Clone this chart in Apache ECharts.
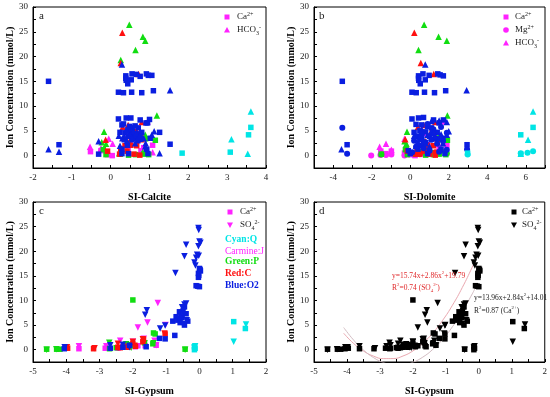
<!DOCTYPE html>
<html><head><meta charset="utf-8">
<script src="https://cdn.jsdelivr.net/npm/echarts@6/dist/echarts.min.js"></script>
<style>html,body{margin:0;padding:0;background:#fff}#c{width:550px;height:397px}</style>
</head><body><div id="c"></div>
<script>
// ---------- Panel a: SI-Calcite ----------
const calCa_Q = [[1.84,0.5],[3.08,0.7],[3.55,4.2],[3.61,5.7]];
const calCa_J = [[-0.52,0.8],[-0.25,1.0],[-0.08,0.2],[0.04,0.0],[0.45,1.0],[0.5,2.2],[0.78,1.0],[0.85,1.6],[1.08,2.1]];
const calCa_P = [[-0.19,1.2],[-0.12,0.2],[0.25,0.3],[0.46,0.1],[0.64,0.2],[0.85,0.3],[0.9,3.4],[0.98,0.2],[1.15,3.1]];
const calCa_C = [[-0.08,0.9],[0.23,0.3],[0.26,1.4],[0.37,2.0],[0.42,0.9],[0.52,2.1],[0.6,0.3],[0.63,4.9],[0.67,2.0],[0.75,0.1],[0.8,3.2]];
const calCa_O2 = [[-1.6,15.0],[-1.33,2.2],[-0.31,0.3],[0.2,12.8],[0.33,12.7],[0.54,12.8],[0.8,12.7],[1.1,13.1],[0.39,16.1],[0.39,15.6],[0.4,15.2],[0.44,14.5],[0.53,15.3],[0.55,16.5],[0.66,16.4],[0.76,16.0],[0.92,16.5],[0.97,16.2],[1.06,16.2],[0.2,7.4],[0.4,7.6],[0.52,7.6],[0.76,7.2],[1.0,7.3],[0.91,6.6],[0.95,6.6],[0.71,5.6],[0.29,6.2],[0.33,6.4],[0.49,5.9],[0.55,5.6],[0.63,6.0],[1.26,4.7],[1.53,2.3],[0.24,4.7],[0.37,4.6],[0.55,4.9],[0.67,4.4],[0.8,4.7],[0.46,3.9],[0.59,3.9],[0.35,3.2],[0.55,3.2],[0.76,3.3],[1.02,3.5],[0.43,2.1],[0.29,1.3],[0.93,1.3],[0.96,0.4],[0.29,0.4],[0.46,0.4],[0.62,3.6],[0.5,4.4],[0.45,5.2],[0.7,3.0]];
const calHCO3_Q = [[3.11,3.3],[3.53,0.4],[3.61,8.9]];
const calHCO3_J = [[-0.53,1.8],[-0.25,1.5],[-0.05,3.4],[0.05,2.4],[0.45,4.5],[0.85,1.1],[0.95,6.9],[1.08,0.7]];
const calHCO3_P = [[-0.23,2.7],[-0.17,4.8],[-0.12,2.4],[0.22,0.5],[0.26,19.3],[0.48,26.4],[0.64,21.3],[0.83,24.0],[0.83,0.7],[0.89,23.2],[0.89,4.2],[1.19,8.1]];
const calHCO3_C = [[-0.13,3.2],[0.26,18.7],[0.3,24.8],[0.31,5.8],[0.45,6.2],[0.48,2.9],[0.67,5.0],[0.72,16.5],[0.8,4.0],[0.8,6.8]];
const calHCO3_O2 = [[-1.6,1.3],[-1.33,0.8],[-0.31,2.9],[0.21,4.0],[0.24,2.0],[0.29,18.4],[1.53,13.2],[0.59,4.9],[0.5,4.2],[0.72,3.9],[0.85,3.5],[1.06,4.2],[1.12,4.9],[1.26,0.5],[0.89,1.9],[0.63,2.5],[0.35,3.9],[0.42,3.0],[0.55,3.6],[0.66,4.6],[0.4,5.2],[0.77,4.3],[0.9,2.5],[0.3,3.5]];

// ---------- Panel b: SI-Dolomite ----------
const dolCa_Q = [[2.98,0.5],[5.74,4.2],[6.38,5.7],[5.74,0.3]];
const dolCa_J = [[-1.53,0.9],[-0.98,0.9],[-1.26,0.4],[0.0,0.2],[0.25,0.0],[1.9,2.1],[1.5,1.7],[0.9,2.2],[-0.3,0.5],[0.8,1.0]];
const dolCa_P = [[-1.5,0.3],[-0.25,1.2],[-0.15,0.2],[1.2,0.2],[1.85,0.2],[1.93,3.1],[1.6,3.4],[0.8,0.1],[1.5,0.3],[0.3,0.3]];
const dolCa_C = [[0.35,1.4],[0.3,0.3],[0.7,0.9],[0.9,2.1],[1.2,2.0],[1.15,4.9],[1.4,3.2],[1.3,0.1],[-0.15,0.9],[0.6,2.0],[1.0,0.3]];
const dolCa_O2 = [[-3.53,15.0],[-3.28,2.2],[0.09,12.8],[0.31,12.7],[0.74,12.8],[1.26,12.7],[1.84,13.1],[0.43,16.1],[0.43,15.6],[0.44,15.2],[0.52,14.5],[0.66,16.5],[0.78,15.3],[0.98,16.2],[1.43,16.5],[1.55,16.3],[1.72,16.1],[0.09,7.4],[0.43,7.6],[0.69,7.7],[1.21,7.2],[1.72,7.2],[1.5,6.6],[0.3,6.3],[0.6,6.2],[0.9,5.9],[1.1,5.6],[0.5,5.0],[0.2,4.7],[0.8,4.8],[1.4,4.7],[0.35,3.9],[1.0,3.9],[0.6,3.3],[1.3,3.4],[1.7,3.5],[0.5,2.1],[0.0,0.4],[0.4,1.3],[1.6,1.3],[1.8,0.4],[0.9,0.4],[2.95,2.2],[-0.1,1.0],[0.7,2.5]];
const dolMg_Q = [[2.98,0.2],[6.09,0.6],[6.38,0.9],[5.74,0.5]];
const dolMg_J = [[-2.03,0.0],[-1.55,0.1],[-1.26,0.1],[-0.98,0.2],[-0.3,0.0],[0.2,0.1],[0.6,0.3],[1.4,0.4]];
const dolMg_P = [[-1.5,0.2],[-0.2,1.3],[0.5,0.8],[1.1,0.6],[1.6,1.0],[1.9,0.5]];
const dolMg_C = [[0.1,0.5],[0.5,0.3],[0.9,1.0],[1.3,0.7],[0.7,2.2]];
const dolMg_O2 = [[-3.53,5.6],[-3.28,0.4],[2.95,1.3],[0.2,3.0],[0.5,3.5],[0.8,2.7],[1.1,3.2],[1.4,2.4],[1.7,2.9],[1.9,4.6],[0.3,1.8],[0.7,1.5],[1.0,1.0],[1.5,0.8],[0.1,0.7],[1.9,1.2],[0.6,4.2],[1.2,5.3],[1.6,5.8],[0.9,6.4]];
const dolHCO3_Q = [[6.12,3.2],[6.38,8.9],[5.74,0.4]];
const dolHCO3_J = [[-1.59,1.8],[-1.26,2.4],[-0.98,1.2],[-0.3,3.4],[-0.2,2.3],[1.9,0.7],[1.5,1.1],[0.8,4.5],[1.7,6.9]];
const dolHCO3_P = [[0.72,26.4],[1.47,24.0],[1.9,23.2],[0.43,21.3],[-0.17,4.8],[1.93,8.1],[-0.2,2.4],[-0.3,2.9],[1.5,4.2],[1.5,0.7],[0.3,0.5]];
const dolHCO3_C = [[0.21,24.8],[0.55,18.7],[1.22,16.5],[-0.26,3.3],[0.4,5.8],[1.1,5.0],[1.3,4.0],[0.8,2.9],[0.7,6.2],[1.3,6.8]];
const dolHCO3_O2 = [[-3.57,1.3],[2.93,13.2],[0.78,18.4],[0.2,4.0],[0.3,2.0],[1.1,4.9],[0.9,4.2],[1.3,3.9],[1.5,3.5],[1.9,4.2],[2.0,4.9],[1.9,6.8],[1.0,1.9],[0.8,2.5],[0.5,3.9],[0.7,3.0],[1.1,3.6],[1.2,4.6],[0.6,5.2],[1.6,4.3],[1.7,2.5],[0.6,3.5],[0.4,2.8],[1.5,7.1],[1.1,7.0]];

// ---------- Panels c & d: SI-Gypsum ----------
const gypCa_Q = [[1.03,5.7],[1.38,4.3],[-0.15,0.6],[-0.13,0.3],[-0.15,0.0]];
const gypCa_J = [[-3.62,0.2],[-2.83,0.3],[-2.45,0.3],[-2.3,0.6],[-1.93,0.6],[-1.85,0.8],[-1.63,0.8],[-1.3,0.9]];
const gypCa_P = [[-4.59,0.1],[-4.29,0.1],[-4.19,0.1],[-2.7,0.2],[-2.5,0.4],[-2.15,1.0],[-2.0,10.1],[-1.65,1.4],[-1.4,1.2],[-1.38,3.4],[-1.33,3.2],[-0.43,0.1]];
const gypCa_C = [[-3.96,0.3],[-3.18,0.2],[-2.45,0.5],[-2.38,0.4],[-2.15,0.5],[-2.0,1.3],[-1.92,0.7],[-1.7,1.6],[-1.68,2.1],[-1.03,3.2]];
const gypCa_O2 = [[-4.06,0.2],[-2.68,0.3],[-2.3,0.5],[-2.1,0.9],[-1.6,0.6],[-1.2,2.3],[-1.03,2.2],[-0.74,2.9],[-0.6,7.7],[-0.55,7.0],[-0.7,6.7],[-0.65,6.0],[-0.8,5.8],[-0.52,6.5],[-0.4,7.3],[-0.35,5.8],[-0.45,5.0],[-0.58,5.5],[-0.5,7.5],[-0.45,8.7],[0.0,16.5],[0.03,16.0],[-0.02,15.1],[-0.03,14.7],[-0.1,13.0],[-0.05,12.9],[0.0,12.8],[0.02,16.3],[-0.03,15.5]];
const gypSO4_Q = [[1.03,1.6],[1.4,5.1],[-0.15,0.4],[-0.13,0.7]];
const gypSO4_J = [[-3.62,0.7],[-2.8,0.7],[-2.38,1.8],[-2.0,1.6],[-1.85,4.5],[-1.67,2.2],[-1.56,5.5],[-1.35,1.8],[-1.3,0.9],[-1.25,9.5],[-1.02,5.0]];
const gypSO4_P = [[-4.59,0.0],[-4.3,0.1],[-2.71,1.4],[-2.2,1.1],[-2.05,0.4],[-1.65,1.3],[-1.38,1.3],[-0.43,0.0]];
const gypSO4_C = [[-3.98,0.5],[-3.15,0.3],[-2.45,1.2],[-2.25,0.6],[-2.0,1.6],[-1.95,0.8],[-1.7,2.1],[-1.05,3.3]];
const gypSO4_O2 = [[-4.05,0.5],[-2.68,0.9],[-2.3,1.0],[-2.1,0.5],[-1.63,7.1],[-1.58,8.0],[-1.18,4.3],[-1.03,4.9],[-0.72,15.6],[-0.45,19.0],[-0.4,21.3],[-0.45,9.2],[-0.4,9.4],[-0.52,8.6],[-0.48,7.8],[-0.03,24.7],[-0.02,24.3],[0.0,22.0],[0.03,21.7],[-0.03,21.0],[-0.07,19.3],[-0.02,19.1],[-0.1,18.7],[-0.15,17.7],[-0.12,17.1],[-0.6,6.2],[-0.5,5.2],[-0.38,6.0]];

// fitted curves in panel d
const fitSO4 = [[-4.1,3.34],[-3.8,1.28],[-3.5,-0.26],[-3.2,-1.29],[-2.9,-1.81],[-2.6,-1.80],[-2.3,-1.28],[-2.0,-0.25],[-1.7,1.30],[-1.4,3.36],[-1.1,5.94],[-0.8,9.03],[-0.5,12.64],[-0.2,16.75],[-0.1,18.25]];
const fitCa = [[-4.1,4.51],[-3.8,1.97],[-3.5,-0.06],[-3.2,-1.58],[-2.9,-2.59],[-2.6,-3.09],[-2.3,-3.08],[-2.0,-2.55],[-1.7,-1.51],[-1.4,0.04],[-1.1,2.09],[-0.8,4.66],[-0.5,7.74],[-0.2,11.33],[-0.1,12.64]];

const yLabels = [0,5,10,15,20,25,30];
const yTicks = [-2.5,0,2.5,5,7.5,10,12.5,15,17.5,20,22.5,25,27.5,30];

const COL = {Q:'#00e5e5', J:'#ff22ff', P:'#11dd11', C:'#ff1010', O2:'#0a1ee0'};
const SERIF = '"Liberation Serif","Times New Roman",serif';

const chart = echarts.init(document.getElementById('c'), null, {renderer:'canvas'});

const grids = [
  {left:33, right:284, top:7, bottom:229},
  {left:314, right:5, top:7, bottom:229},
  {left:33, right:284, top:202, bottom:33},
  {left:314, right:5, top:202, bottom:33}
].map(g => Object.assign({show:true, borderColor:'#000', borderWidth:1, backgroundColor:'transparent'}, g));

function xAx(i, name, min, max, interval, labelVals, tickVals){
  const ax = {gridIndex:i, type:'value', min, max, interval, name, nameLocation:'middle', nameGap:24,
    nameTextStyle:{fontFamily:SERIF, fontWeight:'bold', fontSize:10, color:'#000'},
    axisLine:{show:true, onZero:false, lineStyle:{color:'#000', width:1}},
    axisTick:{show:true, inside:true, length:3, lineStyle:{color:'#000'}},
    axisLabel:{fontFamily:SERIF, fontSize:9, color:'#222', margin:5},
    splitLine:{show:false}};
  if (labelVals) ax.axisLabel.customValues = labelVals;
  if (tickVals) ax.axisTick.customValues = tickVals;
  return ax;
}
function yAx(i){
  return {gridIndex:i, type:'value', min:-2.5, max:30, name:'Ion Concentration (mmol/L)', nameLocation:'middle', nameGap:18,
    nameTextStyle:{fontFamily:SERIF, fontWeight:'bold', fontSize:10, color:'#000'},
    axisLine:{show:true, onZero:false, lineStyle:{color:'#000', width:1}},
    axisTick:{show:true, inside:true, length:3, customValues:yTicks, lineStyle:{color:'#000'}},
    axisLabel:{fontFamily:SERIF, fontSize:9, color:'#222', margin:5, customValues:yLabels},
    splitLine:{show:false}};
}

const xAxes = [
  xAx(0,'SI-Calcite',-2,4,1,[-2,-1,0,1,2,3,4],[-2,-1.5,-1,-0.5,0,0.5,1,1.5,2,2.5,3,3.5,4]),
  xAx(1,'SI-Dolomite',-5,7,1,[-4,-2,0,2,4,6],[-5,-4,-3,-2,-1,0,1,2,3,4,5,6,7]),
  xAx(2,'SI-Gypsum',-5,2,1,[-5,-4,-3,-2,-1,0,1,2],[-5,-4.5,-4,-3.5,-3,-2.5,-2,-1.5,-1,-0.5,0,0.5,1,1.5,2]),
  xAx(3,'SI-Gypsum',-5,2,1,[-5,-4,-3,-2,-1,0,1,2],[-5,-4.5,-4,-3.5,-3,-2.5,-2,-1.5,-1,-0.5,0,0.5,1,1.5,2])
];
const yAxes = [yAx(0), yAx(1), yAx(2), yAx(3)];

const SYM = {
  sq:{symbol:'rect', size:5.5, rot:0},
  tri:{symbol:'triangle', size:6.5, rot:0},
  dtri:{symbol:'triangle', size:6.5, rot:180},
  cir:{symbol:'circle', size:6, rot:0}
};
const series = [];
function sc(i, data, color, s){
  const m = SYM[s];
  series.push({type:'scatter', xAxisIndex:i, yAxisIndex:i, data, symbol:m.symbol, symbolSize:m.size, symbolRotate:m.rot,
    itemStyle:{color, opacity:1}, silent:true, animation:false, clip:true});
}
const order = ['J','P','C','O2','Q'];
const panels = [
  [0, {Ca_Q:calCa_Q,Ca_J:calCa_J,Ca_P:calCa_P,Ca_C:calCa_C,Ca_O2:calCa_O2}, 'sq'],
  [0, {Ca_Q:calHCO3_Q,Ca_J:calHCO3_J,Ca_P:calHCO3_P,Ca_C:calHCO3_C,Ca_O2:calHCO3_O2}, 'tri'],
  [1, {Ca_Q:dolCa_Q,Ca_J:dolCa_J,Ca_P:dolCa_P,Ca_C:dolCa_C,Ca_O2:dolCa_O2}, 'sq'],
  [1, {Ca_Q:dolMg_Q,Ca_J:dolMg_J,Ca_P:dolMg_P,Ca_C:dolMg_C,Ca_O2:dolMg_O2}, 'cir'],
  [1, {Ca_Q:dolHCO3_Q,Ca_J:dolHCO3_J,Ca_P:dolHCO3_P,Ca_C:dolHCO3_C,Ca_O2:dolHCO3_O2}, 'tri'],
  [2, {Ca_Q:gypCa_Q,Ca_J:gypCa_J,Ca_P:gypCa_P,Ca_C:gypCa_C,Ca_O2:gypCa_O2}, 'sq'],
  [2, {Ca_Q:gypSO4_Q,Ca_J:gypSO4_J,Ca_P:gypSO4_P,Ca_C:gypSO4_C,Ca_O2:gypSO4_O2}, 'dtri']
];
order.forEach(k => panels.forEach(([i, sets, s]) => sc(i, sets['Ca_'+k], COL[k], s)));
// panel d: all samples in black
const allCa = [].concat(gypCa_Q,gypCa_J,gypCa_P,gypCa_C,gypCa_O2);
const allSO4 = [].concat(gypSO4_Q,gypSO4_J,gypSO4_P,gypSO4_C,gypSO4_O2);
// curves
series.push({type:'line', xAxisIndex:3, yAxisIndex:3, data:fitSO4, smooth:true, showSymbol:false, symbol:'none',
  lineStyle:{color:'#eaa8b0', width:1}, clip:true, silent:true, animation:false, z:1});
series.push({type:'line', xAxisIndex:3, yAxisIndex:3, data:fitCa, smooth:true, showSymbol:false, symbol:'none',
  lineStyle:{color:'#d2bcc2', width:1}, clip:true, silent:true, animation:false, z:1});
sc(3, allCa, '#000', 'sq');
sc(3, allSO4, '#000', 'dtri');

const richBase = {
  n:{fontFamily:SERIF, fontSize:9, lineHeight:12, color:'#222'},
  sp:{fontFamily:SERIF, fontSize:6, verticalAlign:'top', color:'#222'},
  sb:{fontFamily:SERIF, fontSize:6, verticalAlign:'bottom', color:'#222'}
};
function rich(color, fs){
  const r = JSON.parse(JSON.stringify(richBase));
  Object.keys(r).forEach(k => { r[k].color = color; });
  if (fs){ r.n.fontSize = fs; r.n.lineHeight = fs+4; r.sp.fontSize = fs*0.65; r.sb.fontSize = fs*0.65; }
  return r;
}
function txt(x, y, text, color, fs, extra){
  return Object.assign({type:'text', left:x, top:y, silent:true, z:100,
    style:{text, rich:rich(color||'#222', fs), fill:color||'#222', font:(fs||9)+'px '+SERIF}}, extra||{});
}
function sqG(cx, cy, color){ return {type:'rect', shape:{x:cx-2.5, y:cy-2.5, width:5, height:5}, style:{fill:color}, silent:true, z:100}; }
function cirG(cx, cy, color){ return {type:'circle', shape:{cx, cy, r:2.8}, style:{fill:color}, silent:true, z:100}; }
function triG(cx, cy, color, down){
  const p = down ? [[cx-3,cy-2.5],[cx+3,cy-2.5],[cx,cy+3]] : [[cx-3,cy+2.5],[cx+3,cy+2.5],[cx,cy-3]];
  return {type:'polygon', shape:{points:p}, style:{fill:color}, silent:true, z:100};
}

const M = COL.J;
const graphics = [
  // panel letters
  {type:'text', left:39, top:11, style:{text:'a', font:'11px '+SERIF, fill:'#222'}, silent:true},
  {type:'text', left:319, top:11, style:{text:'b', font:'11px '+SERIF, fill:'#222'}, silent:true},
  {type:'text', left:39, top:206, style:{text:'c', font:'11px '+SERIF, fill:'#222'}, silent:true},
  {type:'text', left:319, top:206, style:{text:'d', font:'11px '+SERIF, fill:'#222'}, silent:true},
  // legend a
  sqG(227,17,M), txt(237,11,'{n|Ca}{sp|2+}'),
  triG(227,30,M), txt(237,24,'{n|HCO}{sb|3}{sp|-}'),
  // legend b
  sqG(506,17,M), txt(515,11,'{n|Ca}{sp|2+}'),
  cirG(506,30,M), txt(515,24,'{n|Mg}{sp|2+}'),
  triG(506,43,M), txt(515,37,'{n|HCO}{sb|3}{sp|-}'),
  // legend c
  sqG(230,212,M), txt(240,206,'{n|Ca}{sp|2+}'),
  triG(230,225,M,true), txt(240,219,'{n|SO}{sb|4}{sp|2-}'),
  {type:'text', left:225, top:235, style:{text:'Cyan:Q', font:'bold 9.5px '+SERIF, fill:COL.Q}, silent:true},
  {type:'text', left:225, top:246, style:{text:'Carmine:J', font:'9.5px '+SERIF, fill:COL.J}, silent:true},
  {type:'text', left:225, top:257, style:{text:'Green:P', font:'bold 9.5px '+SERIF, fill:COL.P}, silent:true},
  {type:'text', left:225, top:269, style:{text:'Red:C', font:'bold 9.5px '+SERIF, fill:COL.C}, silent:true},
  {type:'text', left:225, top:281, style:{text:'Blue:O2', font:'bold 9.5px '+SERIF, fill:COL.O2}, silent:true},
  // legend d
  sqG(514,212,'#000'), txt(522,206,'{n|Ca}{sp|2+}'),
  triG(514,225,'#000',true), txt(522,219,'{n|SO}{sb|4}{sp|2-}'),
  // equations
  txt(392,270,'{n|y=15.74x+2.86x}{sp|2}{n|+19.79}','#e0282a',7.5),
  txt(392,282,'{n|R}{sp|2}{n|=0.74 (SO}{sb|4}{sp|2-}{n|)}','#e0282a',7.5),
  txt(474,292,'{n|y=13.96x+2.84x}{sp|2}{n|+14.01}','#222',7.5),
  txt(474,305,'{n|R}{sp|2}{n|=0.87 (Ca}{sp|2+}{n|)}','#222',7.5)
];

chart.setOption({
  animation:false,
  backgroundColor:'#fff',
  grid:grids,
  xAxis:xAxes,
  yAxis:yAxes,
  series,
  graphic:graphics
});
</script></body></html>
